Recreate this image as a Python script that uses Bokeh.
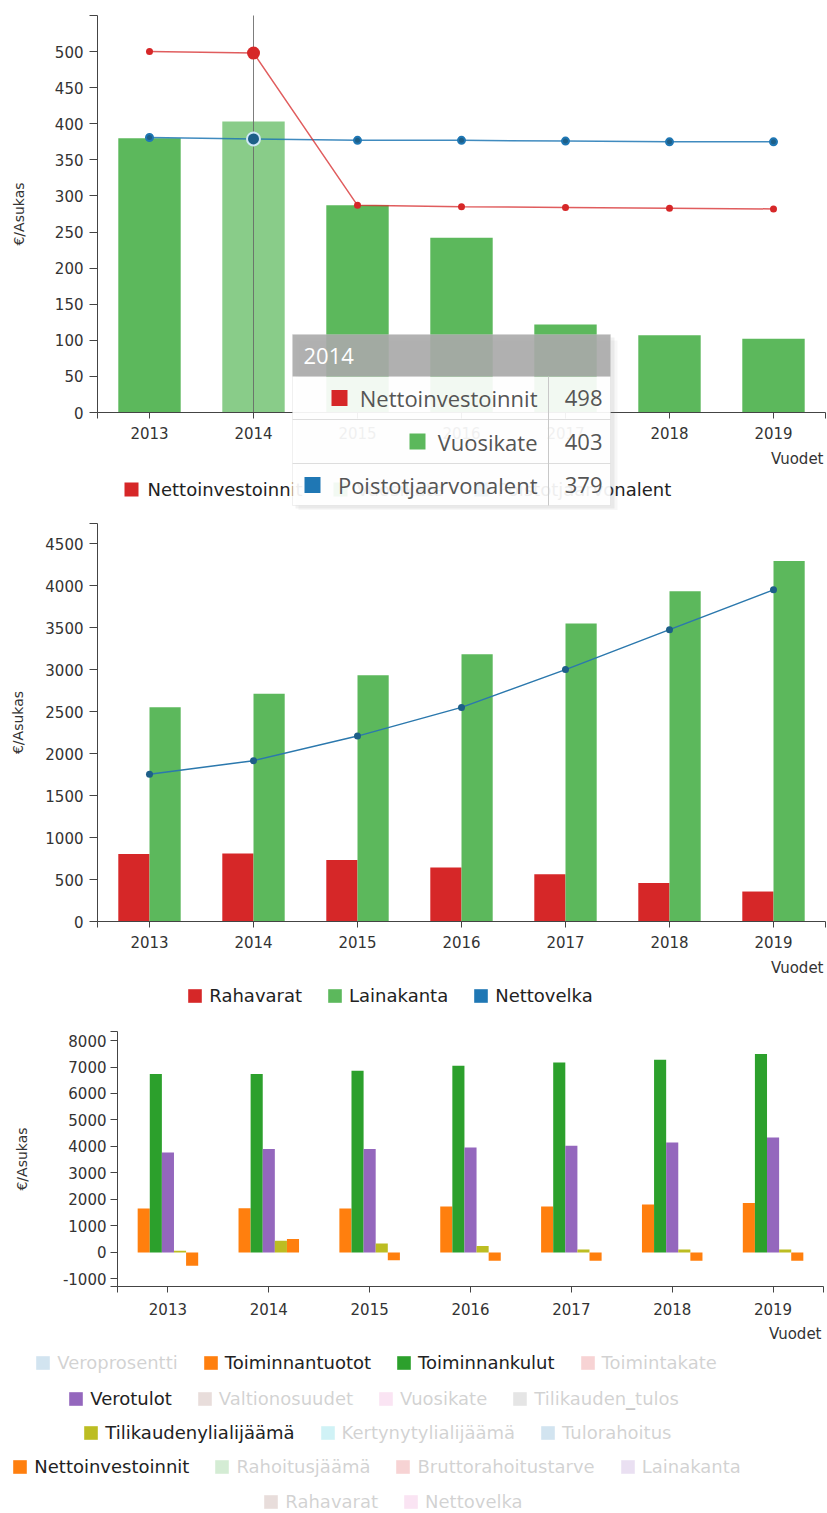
from bokeh.plotting import figure
from bokeh.models import (Range1d, FixedTicker, Legend, LegendItem,
                          BoxAnnotation, Label, ColumnDataSource)
from bokeh.layouts import column
from bokeh.transform import dodge
from bokeh.embed import file_html
from bokeh.resources import INLINE

NAN = float("nan")

# ---------------- data ----------------
years = ["2013", "2014", "2015", "2016", "2017", "2018", "2019"]

# chart 1
c1_nettoinvestoinnit = [500, 498, 287, 285, 284, 283, 282]
c1_vuosikate = [380, 403, 287, 242, 122, 107, 102]
c1_poistot = [381, 379, 377, 377, 376, 375, 375]
c1_series = ["Nettoinvestoinnit", "Vuosikate", "Poistotjaarvonalent"]
c1_highlight = "2014"
c1_yticks = [0, 50, 100, 150, 200, 250, 300, 350, 400, 450, 500]
c1_ymax = 550

# chart 2
c2_rahavarat = [803, 811, 731, 643, 562, 458, 357]
c2_lainakanta = [2551, 2711, 2932, 3182, 3548, 3932, 4293]
c2_nettovelka = [1755, 1915, 2208, 2550, 3000, 3476, 3950]
c2_yticks = [0, 500, 1000, 1500, 2000, 2500, 3000, 3500, 4000, 4500]
c2_ymax = 4740

# chart 3
c3_toiminnantuotot = [1660, 1670, 1660, 1736, 1736, 1811, 1864]
c3_toiminnankulut = [6732, 6732, 6857, 7045, 7170, 7272, 7487]
c3_verotulot = [3774, 3902, 3902, 3962, 4026, 4151, 4340]
c3_tilikaudenylialijaama = [60, 440, 340, 240, 110, 110, 110]
c3_nettoinvestoinnit = [-500, 510, -290, -310, -310, -310, -310]
c3_yticks = [-1000, 0, 1000, 2000, 3000, 4000, 5000, 6000, 7000, 8000]
c3_ymin, c3_ymax = -1285, 8340
c3_series = ["Veroprosentti", "Toiminnantuotot", "Toiminnankulut", "Toimintakate",
             "Verotulot", "Valtionosuudet", "Vuosikate", "Tilikauden_tulos",
             "Tilikaudenylialijäämä", "Kertynytylialijäämä", "Tulorahoitus",
             "Nettoinvestoinnit", "Rahoitusjäämä", "Bruttorahoitustarve",
             "Lainakanta", "Rahavarat", "Nettovelka"]
c3_values = {
    "Toiminnantuotot": c3_toiminnantuotot,
    "Toiminnankulut": c3_toiminnankulut,
    "Verotulot": c3_verotulot,
    "Tilikaudenylialijäämä": c3_tilikaudenylialijaama,
    "Nettoinvestoinnit": c3_nettoinvestoinnit,
}

# ---------------- style ----------------
FONT = "DejaVu Sans"
TT_FONT = "Open Sans"
AXIS = "#444444"
TXT = "#333333"
GREEN = "#5cb85c"
RED = "#d62728"
BLUE = "#1f77b4"
CAT10 = ["#1f77b4", "#ff7f0e", "#2ca02c", "#d62728", "#9467bd",
         "#8c564b", "#e377c2", "#7f7f7f", "#bcbd22", "#17becf"]
W = 827
N = len(years)
xpos = [i + 0.5 for i in range(N)]          # band centres on the x scale


class Geo:
    """Maps page pixels of one chart panel to its data coordinates."""
    def __init__(self, top, height, left_px, right_px, y_a_px, y_a, y_b_px, y_b):
        self.top, self.h = top, height
        self.left = left_px
        self.band = (right_px - left_px) / N
        self.s = (y_b - y_a) / (y_a_px - y_b_px)
        self.ya_px, self.ya = y_a_px, y_a

    def x(self, px):
        return (px - self.left) / self.band

    def y(self, py):
        return self.ya + (self.ya_px - py) * self.s


def make_fig(g, y0, y1, yticks, ystandoff, ytick_out=8, ylab_standoff=6, xlab_standoff=8):
    p = figure(width=W, height=g.h, x_range=Range1d(g.x(0), g.x(W)),
               y_range=Range1d(g.y(g.top + g.h), g.y(g.top)),
               output_backend="svg", toolbar_location=None,
               min_border_left=0, min_border_right=0, min_border_top=0, min_border_bottom=0)
    p.outline_line_color = None
    p.xgrid.visible = False
    p.ygrid.visible = False
    yt = list(yticks) + [v for v in (y0, y1) if v not in yticks]
    yover = {v: "" for v in (y0, y1) if v not in yticks}
    yover.update({t: str(t) for t in yticks if t < 0})
    p.yaxis.ticker = FixedTicker(ticks=yt)
    p.yaxis.major_label_overrides = yover
    p.xaxis.ticker = FixedTicker(ticks=[0] + xpos + [N])
    xover = {0: "", N: ""}
    xover.update({xp: yr for xp, yr in zip(xpos, years)})
    p.xaxis.major_label_overrides = xover
    p.xaxis.fixed_location = y0
    p.yaxis.fixed_location = 0
    p.xaxis.bounds = (0, N)
    p.yaxis.bounds = (y0, y1)
    for ax in list(p.xaxis) + list(p.yaxis):
        ax.axis_line_color = AXIS
        ax.major_tick_line_color = AXIS
        ax.minor_tick_line_color = None
        ax.major_tick_in = 0
        ax.major_label_text_font = FONT
        ax.major_label_text_font_size = "15px"
        ax.major_label_text_color = TXT
    p.xaxis.major_tick_out = 6
    p.xaxis.major_label_standoff = xlab_standoff
    p.yaxis.major_tick_out = ytick_out
    p.yaxis.major_label_standoff = ylab_standoff
    p.yaxis.axis_label = "€/Asukas"
    p.yaxis.axis_label_text_font = FONT
    p.yaxis.axis_label_text_font_size = "14px"
    p.yaxis.axis_label_text_font_style = "normal"
    p.yaxis.axis_label_text_color = TXT
    p.yaxis.axis_label_standoff = ystandoff
    return p


def legend(p, g, items, start_px, center_py):
    lg = Legend(items=items, location=(start_px - 1.7, (g.top + g.h) - (center_py + 10)),
                orientation="horizontal", label_text_font=FONT, label_text_font_size="18px",
                label_text_color="#222222", glyph_width=17, glyph_height=17,
                label_height=20, label_standoff=6, spacing=24, padding=0, margin=0,
                border_line_color=None, background_fill_alpha=0, click_policy="hide",
                inactive_fill_color="white", inactive_fill_alpha=0.8)
    p.add_layout(lg)


def legend_swatch(p, color, visible=True):
    # a swatch-only renderer: no drawable data, only gives the legend its colour square
    return p.vbar(x=[NAN], top=[NAN], width=0.5, fill_color=color, line_color=None,
                  visible=visible)


def vuodet(p, g, right_px, py):
    p.add_layout(Label(x=g.x(right_px), y=g.y(py), text="Vuodet", text_align="right",
                       text_baseline="middle", text_font=FONT, text_font_size="15px",
                       text_color=TXT))


# ================= chart 1 =================
g1 = Geo(0, 510, 97, 825, 412, 0, 15, c1_ymax)
p1 = make_fig(g1, 0, c1_ymax, c1_yticks, 25)
hi = years.index(c1_highlight)
src1 = ColumnDataSource(dict(
    x=xpos, netto=c1_nettoinvestoinnit, vuosi=c1_vuosikate, poisto=c1_poistot,
    bar_alpha=[0.72 if y == c1_highlight else 1.0 for y in years],
    pt_size=[13 if y == c1_highlight else 7 for y in years],
    ring=["#cfe9f7" if y == c1_highlight else BLUE for y in years],
))
p1.vbar(x="x", top="vuosi", width=0.6, source=src1, fill_color=GREEN,
        fill_alpha="bar_alpha", line_color=None)
p1.segment(x0=[xpos[hi]], y0=[0], x1=[xpos[hi]], y1=[c1_ymax], line_color="#666666",
           line_width=1, line_alpha=0.85)
p1.line(x="x", y="poisto", source=src1, line_color=BLUE, line_width=1.5, line_alpha=0.85)
p1.line(x="x", y="netto", source=src1, line_color=RED, line_width=1.5, line_alpha=0.75)
p1.scatter(x="x", y="poisto", size="pt_size", source=src1, fill_color="#1d5f88",
           line_color="ring", line_width=2)
p1.scatter(x="x", y="netto", size="pt_size", source=src1, fill_color=RED, line_color=None)


def box1(l, r, t, b, level="overlay", **kw):
    p1.add_layout(BoxAnnotation(left=g1.x(l), right=g1.x(r), top=g1.y(t), bottom=g1.y(b),
                                level=level, **kw))


def label1(x, y, text, align, color="#555555", size="22px", font=TT_FONT, level="overlay"):
    p1.add_layout(Label(x=g1.x(x), y=g1.y(y), text=text, text_align=align,
                        text_baseline="middle", text_font=font, text_font_size=size,
                        text_color=color, level=level))


# chart-1 legend (drawn as plain annotations so that the tooltip can cover it)
for name, col, sq_px in zip(c1_series, [RED, GREEN, BLUE], [124, 333, 474]):
    box1(sq_px, sq_px + 14, 482, 496, level="annotation", fill_color=col, fill_alpha=1,
         line_color=None)
    label1(sq_px + 23, 489, name, "left", color="#222222", size="18px", font=FONT,
           level="annotation")
vuodet(p1, g1, 823, 458)

# ---- static tooltip for the highlighted year (as in the reference screenshot)
box1(298, 617, 340, 511, fill_color="#777777", fill_alpha=0.06, line_color=None)
box1(295, 614, 337, 508, fill_color="#777777", fill_alpha=0.10, line_color=None)
box1(292, 610, 376, 505, fill_color="white", fill_alpha=0.92, line_color=None)
box1(292, 610, 334, 376, fill_color="#aaaaaa", fill_alpha=0.9, line_color=None)
box1(292, 610, 334, 505, fill_alpha=0, line_color="#cccccc", line_width=1)
box1(292, 610, 418.5, 419.5, fill_color="#dddddd", fill_alpha=1, line_color=None)
box1(292, 610, 462.5, 463.5, fill_color="#dddddd", fill_alpha=1, line_color=None)
box1(547.5, 548.5, 376, 505, fill_color="#c8c8c8", fill_alpha=1, line_color=None)
label1(303, 355, c1_highlight, "left", color="white")
rows = [(c1_series[0], c1_nettoinvestoinnit[hi], RED, 331, 397.5),
        (c1_series[1], c1_vuosikate[hi], GREEN, 409, 441),
        (c1_series[2], c1_poistot[hi], BLUE, 304, 484.5)]
for name, val, col, sq, cy in rows:
    box1(sq, sq + 16, cy - 8, cy + 8, fill_color=col, fill_alpha=1, line_color=None)
    label1(537, cy, name, "right")
    label1(602, cy, str(val), "right")

# ================= chart 2 =================
g2 = Geo(510, 514, 97, 825, 921, 0, 523, c2_ymax)
p2 = make_fig(g2, 0, c2_ymax, c2_yticks, 16)
src2 = ColumnDataSource(dict(x=xpos, raha=c2_rahavarat, laina=c2_lainakanta,
                             netto=c2_nettovelka))
r_raha = p2.vbar(x=dodge("x", -0.15), top="raha", width=0.3,
                 source=src2, fill_color=RED, line_color=None)
r_laina = p2.vbar(x=dodge("x", 0.15), top="laina", width=0.3,
                  source=src2, fill_color=GREEN, line_color=None)
p2.line(x="x", y="netto", source=src2, line_color="#2b78ad", line_width=1.5)
p2.scatter(x="x", y="netto", size=7, source=src2, fill_color="#1d5f88", line_color=None)
sw_nv = legend_swatch(p2, BLUE)
legend(p2, g2, [LegendItem(label="Rahavarat", renderers=[r_raha]),
                LegendItem(label="Lainakanta", renderers=[r_laina]),
                LegendItem(label="Nettovelka", renderers=[sw_nv])],
       188, 996)
vuodet(p2, g2, 823, 967)

# ================= chart 3 =================
g3 = Geo(1024, 489, 117, 823, 1286, c3_ymin, 1031, c3_ymax)
p3 = make_fig(g3, c3_ymin, c3_ymax, c3_yticks, 30, ytick_out=7, ylab_standoff=4,
              xlab_standoff=10)
src3 = ColumnDataSource(dict(x=xpos, **c3_values))
visible_order = [s for s in c3_series if s in c3_values]
offsets = [-0.24, -0.12, 0.0, 0.12, 0.24]
rends = {}
for i, name in enumerate(c3_series):
    col = CAT10[i % 10]
    if name in c3_values:
        k = visible_order.index(name)
        rends[name] = p3.vbar(x=dodge("x", offsets[k]), top=name, width=0.12,
                              source=src3, fill_color=col, line_color=None)
    else:
        rends[name] = legend_swatch(p3, col, visible=False)
c3_rows = [[0, 1, 2, 3], [4, 5, 6, 7], [8, 9, 10], [11, 12, 13, 14], [15, 16]]
row_start = [36, 69, 84, 13, 264]
row_center = [1363, 1399, 1433, 1467, 1502]
for idxs, sx, cy in zip(c3_rows, row_start, row_center):
    items = [LegendItem(label=c3_series[i], renderers=[rends[c3_series[i]]]) for i in idxs]
    legend(p3, g3, items, sx, cy)
vuodet(p3, g3, 821, 1333)

layout = column(p1, p2, p3)
open("out.html", "w").write(file_html(layout, INLINE, title="Talous"))
